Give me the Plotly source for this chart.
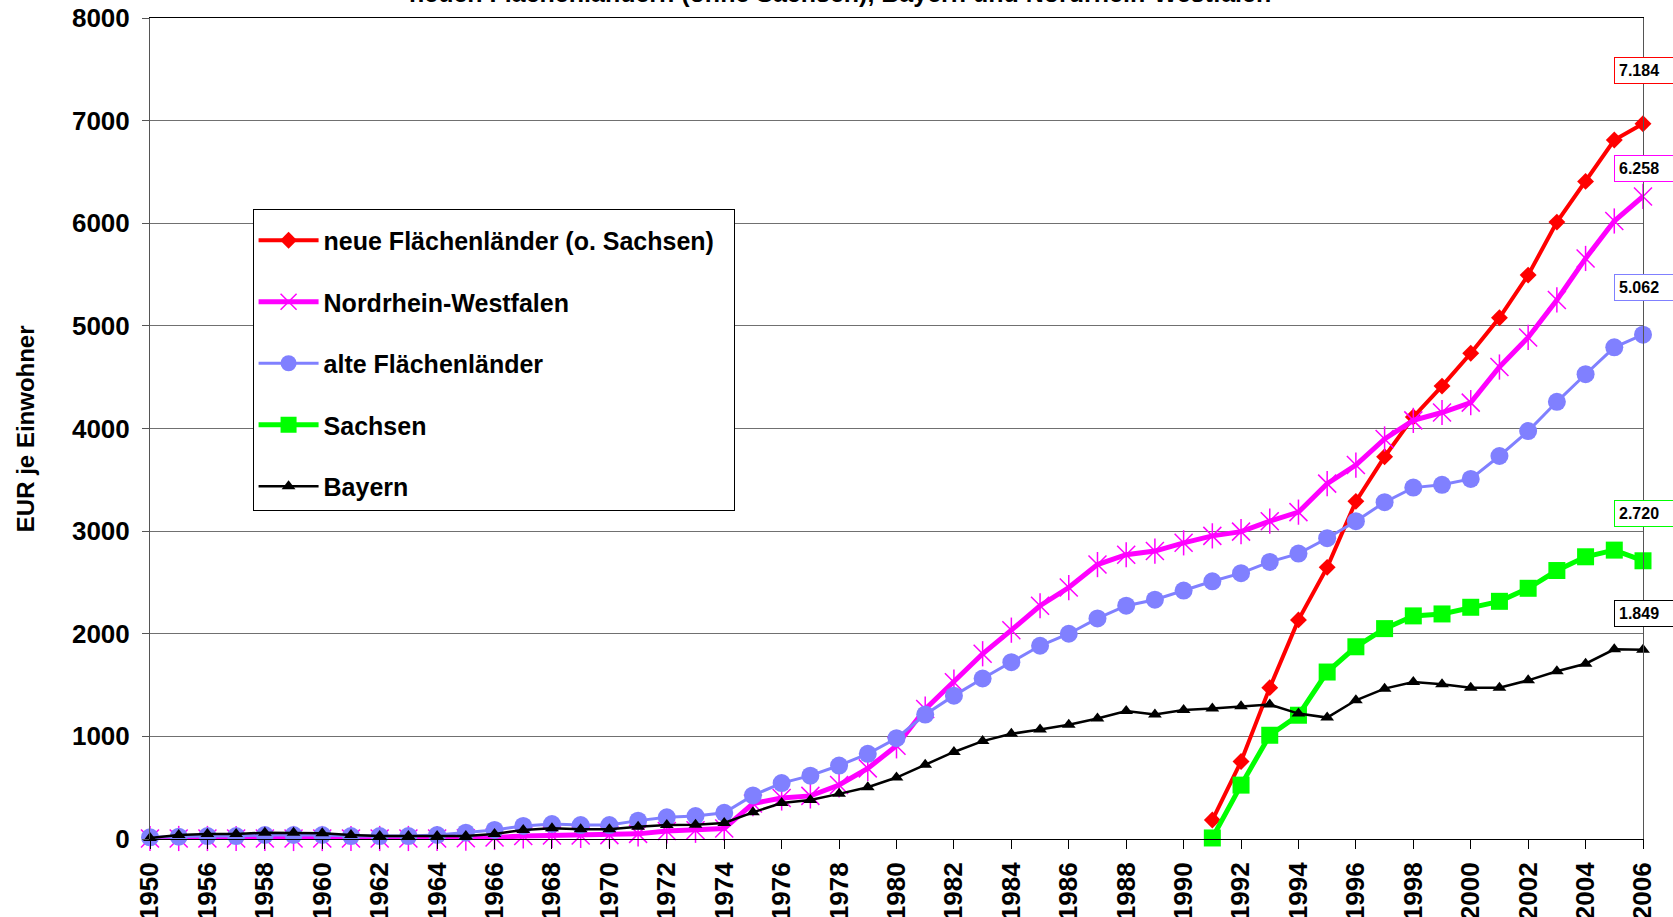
import plotly.graph_objects as go

FONT = "Liberation Sans, Arial, sans-serif"

years = [
    "1950", "1955", "1956", "1957", "1958", "1959", "1960", "1961", "1962", "1963",
    "1964", "1965", "1966", "1967", "1968", "1969", "1970", "1971", "1972", "1973",
    "1974", "1975", "1976", "1977", "1978", "1979", "1980", "1981", "1982", "1983",
    "1984", "1985", "1986", "1987", "1988", "1989", "1990", "1991", "1992", "1993",
    "1994", "1995", "1996", "1997", "1998", "1999", "2000", "2001", "2002", "2003",
    "2004", "2005", "2006",
]

# 1950-1990 keine Werte fuer die neuen Laender
neue_fl = [None] * 37 + [
    185, 755, 1475, 2135, 2647, 3290, 3725, 4113, 4413, 4733,
    5079, 5495, 6011, 6408, 6811, 6969,
]
nrw = [
    5, 5, 5, 5, 5, 5, 5, 5, 5, 5,
    5, 8, 15, 30, 35, 35, 38, 50, 78, 85,
    103, 345, 400, 420, 526, 688, 908, 1266, 1528, 1805,
    2035, 2273, 2450, 2674, 2770, 2806, 2886, 2954, 2995, 3097,
    3185, 3463, 3644, 3898, 4079, 4156, 4252, 4599, 4887, 5253,
    5657, 6022, 6261,
]
alte_fl = [
    16, 23, 29, 29, 39, 39, 39, 29, 29, 29,
    39, 62, 88, 127, 146, 136, 136, 179, 211, 224,
    255, 425, 545, 617, 716, 830, 982, 1213, 1397, 1564,
    1723, 1883, 2000, 2149, 2273, 2332, 2421, 2511, 2590, 2700,
    2781, 2931, 3097, 3282, 3424, 3451, 3509, 3732, 3975, 4260,
    4529, 4791, 4914,
]
sachsen = [None] * 37 + [
    10, 525, 1011, 1206, 1627, 1873, 2050, 2174, 2193, 2258,
    2316, 2443, 2616, 2750, 2815, 2711,
]
bayern = [
    10, 39, 49, 49, 62, 62, 55, 39, 29, 29,
    29, 29, 49, 88, 104, 94, 94, 120, 136, 138,
    156, 260, 350, 380, 440, 504, 599, 723, 848, 954,
    1025, 1067, 1113, 1174, 1248, 1213, 1258, 1272, 1293, 1310,
    1222, 1183, 1352, 1465, 1530, 1507, 1475, 1475, 1546, 1634,
    1708, 1848, 1845,
]

end_labels = ["7.184", "6.258", "5.062", "2.720", "1.849"]

RED, MAGENTA, BLUE, GREEN, BLACK = "#FF0000", "#FF00FF", "#8080FF", "#00FF00", "#000000"

fig = go.Figure()

fig.add_trace(go.Scatter(
    x=years, y=neue_fl, name="neue Flächenländer (o. Sachsen)\u00a0\u00a0",
    mode="lines+markers", line=dict(color=RED, width=4),
    marker=dict(symbol="diamond", size=13, color=RED),
    cliponaxis=False,
))
fig.add_trace(go.Scatter(
    x=years, y=nrw, name="Nordrhein-Westfalen",
    mode="lines+markers", line=dict(color=MAGENTA, width=5),
    marker=dict(symbol="x-thin-open", size=18, color=MAGENTA,
                line=dict(color=MAGENTA, width=1.5)),
    cliponaxis=False, legendgroup="nrw",
))
# senkrechter Strich macht aus dem x den Excel-Stern
fig.add_trace(go.Scatter(
    x=years, y=nrw, mode="markers", showlegend=False, hoverinfo="skip",
    marker=dict(symbol="line-ns-open", size=18, color=MAGENTA,
                line=dict(color=MAGENTA, width=1.5)),
    cliponaxis=False, legendgroup="nrw",
))
fig.add_trace(go.Scatter(
    x=years, y=alte_fl, name="alte Flächenländer",
    mode="lines+markers", line=dict(color=BLUE, width=3),
    marker=dict(symbol="circle", size=18, color=BLUE),
    cliponaxis=False,
))
fig.add_trace(go.Scatter(
    x=years, y=sachsen, name="Sachsen",
    mode="lines+markers", line=dict(color=GREEN, width=5),
    marker=dict(symbol="square", size=17, color=GREEN),
    cliponaxis=False,
))
fig.add_trace(go.Scatter(
    x=years, y=bayern, name="Bayern",
    mode="lines+markers", line=dict(color=BLACK, width=2.5),
    marker=dict(symbol="triangle-up", size=12, color=BLACK),
    cliponaxis=False,
))

# Endwert-Kaesten rechts (x=1 ist die letzte Kategorie 2006)
label_series = [neue_fl, nrw, alte_fl, sachsen, bayern]
label_colors = [RED, MAGENTA, BLUE, GREEN, BLACK]
label_yshift = [53, 28, 47, 47, 36]
for txt, ser, col, ys in zip(end_labels, label_series, label_colors, label_yshift):
    fig.add_annotation(
        xref="paper", yref="y", x=1, y=ser[-1],
        text=f"<b>{txt}</b>\u00a0\u00a0\u00a0", showarrow=False,
        xanchor="left", yanchor="middle", xshift=-29, yshift=ys,
        font=dict(family=FONT, size=16, color="black"),
        bgcolor="white", bordercolor=col, borderwidth=1, borderpad=4,
    )

# Titel ragt oben aus dem Bild
fig.add_annotation(
    xref="paper", yref="paper", x=0.462, y=1.011,
    xanchor="center", yanchor="bottom", showarrow=False,
    text="<b>neuen Flächenländern (ohne Sachsen), Bayern und Nordrhein-Westfalen</b>",
    font=dict(family=FONT, size=25, color="black"),
)
fig.add_annotation(
    xref="paper", yref="paper", x=-0.0833, y=0.5,
    xanchor="center", yanchor="middle", showarrow=False, textangle=-90,
    text="<b>EUR je Einwohner</b>",
    font=dict(family=FONT, size=24, color="black"),
)

fig.update_layout(
    width=1673, height=917,
    margin=dict(l=150, r=30, t=18, b=78),
    paper_bgcolor="white", plot_bgcolor="white",
    font=dict(family=FONT, color="black"),
    legend=dict(
        x=0.0687, y=0.7677, xanchor="left", yanchor="top",
        bgcolor="white", bordercolor="black", borderwidth=1,
        font=dict(family=FONT, size=25, color="black", weight="bold"),
        title=dict(text="\u00a0", font=dict(size=6)),
        tracegroupgap=26, itemwidth=60,
    ),
    xaxis=dict(
        type="category", range=[0, len(years) - 1],
        tickmode="array", tickvals=years[::2], ticktext=years[::2],
        tickangle=-90, ticks="outside", ticklen=9, tickcolor="black",
        tickfont=dict(family=FONT, size=26, color="black", weight="bold"),
        showline=True, linecolor="black", linewidth=1, mirror=True,
        showgrid=False, automargin=False, ticklabelstandoff=3,
    ),
    yaxis=dict(
        range=[0, 8000], dtick=1000, ticks="outside", ticklen=7, tickcolor="#555",
        tickfont=dict(family=FONT, size=26, color="black", weight="bold"),
        showline=True, linecolor="#555", linewidth=1, mirror=True,
        showgrid=True, gridcolor="#707070", gridwidth=1,
        zeroline=False, automargin=False, ticklabelstandoff=7,
    ),
)

fig.write_html(
    "out.html",
    config={"displayModeBar": False},
    post_script="document.body.style.margin='0px';document.body.style.overflow='hidden';",
)
